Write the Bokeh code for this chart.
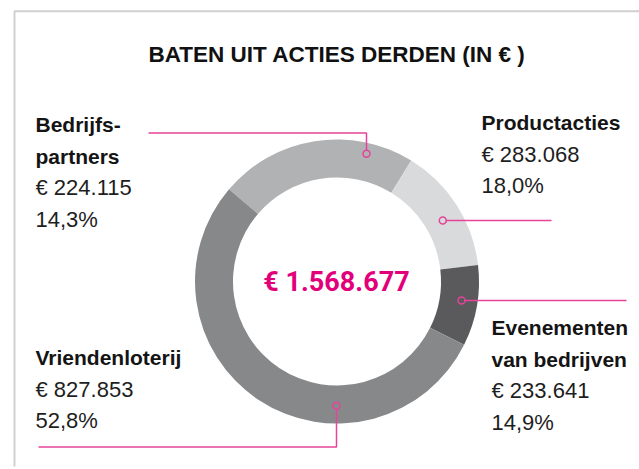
import math
from bokeh.plotting import figure
from bokeh.models import Range1d, ColumnDataSource
from bokeh.core.properties import value
from bokeh.embed import file_html
from bokeh.resources import INLINE

# ---- data ----
title = "BATEN UIT ACTIES DERDEN (IN € )"
categories = ["Bedrijfspartners", "Productacties", "Evenementen van bedrijven", "Vriendenloterij"]
label_lines = [["Bedrijfs-", "partners"], ["Productacties"], ["Evenementen", "van bedrijven"], ["Vriendenloterij"]]
amounts = [224115, 283068, 233641, 827853]
percentages = [14.3, 18.0, 14.9, 52.8]
# share of the ring as it is drawn in the picture (%)
drawn_share = [22.5, 14.4, 9.2, 53.9]
colors = ["#b1b2b4", "#d9dadc", "#5a5a5c", "#87888a"]

W, H = 639, 469
SCREEN_H = 469
K = 0.37  # baseline correction (fraction of font size)

def sy(y):  # screen y -> data y
    return SCREEN_H - y

def ty(y, fs):  # text baseline screen y -> data y, corrected
    return SCREEN_H - (y - K * fs)

def fmt_eur(v):
    return "€ " + f"{v:,}".replace(",", ".")

def fmt_pct(p):
    return f"{p:.1f}%".replace(".", ",")

p = figure(width=W, height=H, output_backend="svg", toolbar_location=None,
           x_range=Range1d(0, W), y_range=Range1d(0, H),
           min_border=0, min_border_left=0, min_border_right=0, min_border_top=0, min_border_bottom=0)
p.axis.visible = False
p.grid.visible = False
p.outline_line_color = None
p.background_fill_color = "white"
p.border_fill_color = "white"

# frame
frame_col = "#d0d0d0"
p.line([14, 14, 640], [sy(466), sy(10.8), sy(10.8)], line_color=frame_col, line_width=2)

# donut
cx, cy = 336.5, sy(281)
r_in, r_out = 104, 142
start = 139.5
starts, ends = [], []
a = start
for s in drawn_share:
    span = s / 100 * 360
    ends.append(math.radians(a))
    starts.append(math.radians(a - span))
    a -= span
src = ColumnDataSource(dict(start=starts, end=ends, color=colors))
p.annular_wedge(x=cx, y=cy, inner_radius=r_in, outer_radius=r_out,
                start_angle="start", end_angle="end", fill_color="color",
                line_color=None, source=src)

# center total
total = sum(amounts)
p.text(x=[336], y=[ty(291.7, 27)], text=[fmt_eur(total)], text_align="center",
       text_baseline="alphabetic", text_font=value("Roboto"), text_font_style="bold",
       text_font_size="27px", text_color="#e2007a")

# title
p.text(x=[336.5], y=[ty(62.3, 22.5)], text=[title], text_align="center", text_baseline="alphabetic",
       text_font=value("Liberation Sans"), text_font_style="bold", text_font_size="22.5px",
       text_color="#111111")

# callouts
mag = "#e5449a"
callouts = [
    ([148, 366, 366], [132.5, 132.5, 150.2], (366, 153.3)),
    ([445.3, 551], [220, 220], (442.3, 220)),
    ([464, 626], [300, 300], (461, 300)),
    ([336, 336, 38], [408.4, 446.5, 446.5], (336, 405.3)),
]
for xs, ys, (mx, my) in callouts:
    p.line(xs, [sy(v) for v in ys], line_color=mag, line_width=1.5)
    p.scatter([mx], [sy(my)], marker="circle", size=7, fill_color=None,
              line_color=mag, line_width=1.5)

# labels
label_pos = [(35, 132), (481, 130), (491, 335), (35, 365)]
step = 31.8
for i, (lx, ly) in enumerate(label_pos):
    y = ly
    for ln in label_lines[i]:
        p.text(x=[lx], y=[ty(y, 21)], text=[ln], text_baseline="alphabetic",
               text_font=value("Liberation Sans"), text_font_style="bold",
               text_font_size="21px", text_color="#141414")
        y += step
    for ln in (fmt_eur(amounts[i]), fmt_pct(percentages[i])):
        p.text(x=[lx], y=[ty(y, 22)], text=[ln], text_baseline="alphabetic",
               text_font=value("Liberation Sans"), text_font_size="22px",
               text_color="#1e1e1e")
        y += step

open("out.html", "w").write(file_html(p, INLINE))
